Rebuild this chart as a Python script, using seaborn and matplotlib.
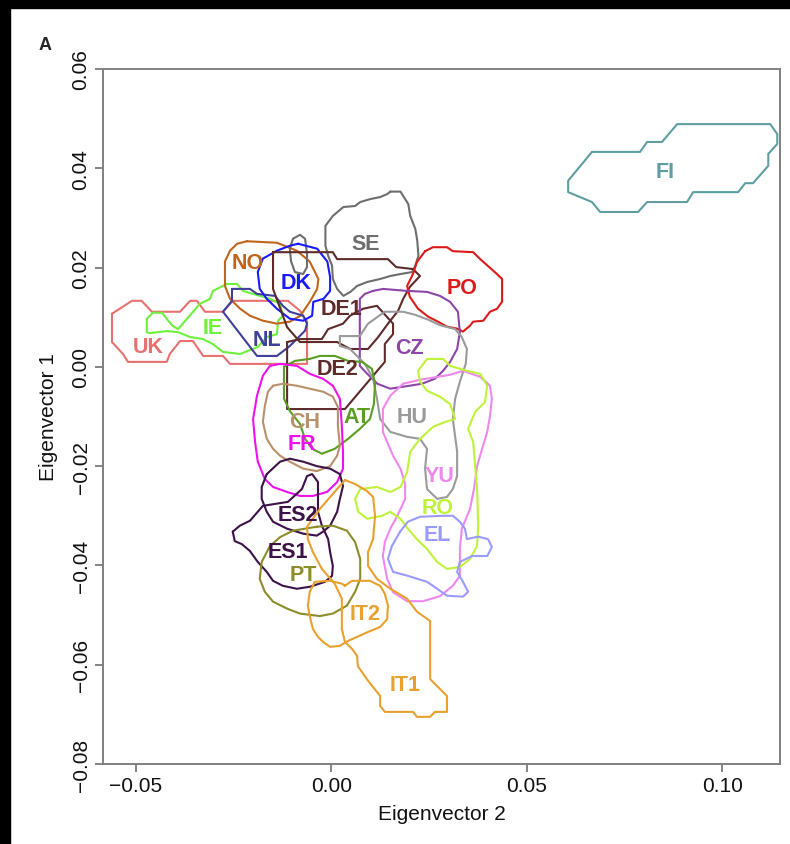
import matplotlib
matplotlib.use("Agg")
import matplotlib.pyplot as plt
import numpy as np
import pandas as pd
import seaborn as sns
from matplotlib.patches import Rectangle

# ---------------- data: contour outlines (Eigenvector 2, Eigenvector 1) ----------------
FI_x = [0.0667, 0.0606, 0.0606, 0.0667, 0.0688, 0.0785, 0.0808, 0.0910, 0.0926, 0.1041, 0.1059, 0.1079, 0.1118, 0.1118, 0.1141, 0.1141, 0.1123, 0.0885, 0.0846, 0.0808, 0.0790]
FI_y = [0.0433, 0.0375, 0.0352, 0.0332, 0.0312, 0.0312, 0.0332, 0.0332, 0.0352, 0.0352, 0.0370, 0.0370, 0.0405, 0.0429, 0.0449, 0.0469, 0.0489, 0.0489, 0.0453, 0.0453, 0.0433]

SE_x = [0.0151, 0.0177, 0.0197, 0.0202, 0.0215, 0.0220, 0.0223, 0.0215, 0.0207, 0.0177, 0.0151, 0.0125, 0.0092, 0.0066, 0.0049, 0.0031, 0.0015, 0.0004, 0.0002, -0.0008, -0.0015, -0.0015, 0.0004, 0.0031, 0.0061, 0.0074, 0.0100, 0.0125, 0.0143]
SE_y = [0.0353, 0.0353, 0.0328, 0.0304, 0.0278, 0.0254, 0.0224, 0.0204, 0.0191, 0.0187, 0.0183, 0.0177, 0.0171, 0.0163, 0.0151, 0.0143, 0.0157, 0.0177, 0.0204, 0.0224, 0.0244, 0.0284, 0.0304, 0.0322, 0.0324, 0.0332, 0.0338, 0.0342, 0.0348]
SEb_x = [-0.0098, -0.0080, -0.0067, -0.0062, -0.0062, -0.0072, -0.0093, -0.0103, -0.0106]
SEb_y = [0.0258, 0.0266, 0.0258, 0.0227, 0.0201, 0.0187, 0.0191, 0.0213, 0.0238]

PO_x = [0.0240, 0.0260, 0.0296, 0.0311, 0.0363, 0.0381, 0.0401, 0.0424, 0.0437, 0.0437, 0.0424, 0.0406, 0.0389, 0.0363, 0.0355, 0.0337, 0.0322, 0.0296, 0.0273, 0.0248, 0.0222, 0.0201, 0.0194, 0.0209, 0.0219]
PO_y = [0.0233, 0.0241, 0.0241, 0.0233, 0.0231, 0.0217, 0.0203, 0.0187, 0.0177, 0.0131, 0.0117, 0.0111, 0.0093, 0.0091, 0.0083, 0.0071, 0.0077, 0.0081, 0.0091, 0.0101, 0.0117, 0.0141, 0.0163, 0.0187, 0.0211]

DK_x = [-0.0085, -0.0036, -0.0010, -0.0003, -0.0003, -0.0020, -0.0046, -0.0049, -0.0072, -0.0106, -0.0139, -0.0165, -0.0183, -0.0188, -0.0175, -0.0139, -0.0106]
DK_y = [0.0248, 0.0238, 0.0212, 0.0181, 0.0153, 0.0137, 0.0131, 0.0103, 0.0093, 0.0097, 0.0117, 0.0137, 0.0157, 0.0191, 0.0218, 0.0234, 0.0244]

NO_x = [-0.0216, -0.0139, -0.0088, -0.0055, -0.0033, -0.0036, -0.0055, -0.0079, -0.0106, -0.0139, -0.0175, -0.0208, -0.0233, -0.0259, -0.0272, -0.0272, -0.0259, -0.0241]
NO_y = [0.0253, 0.0250, 0.0234, 0.0212, 0.0177, 0.0157, 0.0131, 0.0103, 0.0091, 0.0087, 0.0093, 0.0103, 0.0117, 0.0137, 0.0163, 0.0212, 0.0234, 0.0248]

NL_x = [-0.0254, -0.0208, -0.0190, -0.0144, -0.0124, -0.0106, -0.0072, -0.0062, -0.0067, -0.0106, -0.0139, -0.0190, -0.0277, -0.0254]
NL_y = [0.0157, 0.0157, 0.0147, 0.0143, 0.0123, 0.0111, 0.0103, 0.0087, 0.0073, 0.0042, 0.0022, 0.0022, 0.0111, 0.0133]

IE_x = [-0.0472, -0.0472, -0.0456, -0.0433, -0.0408, -0.0392, -0.0369, -0.0336, -0.0310, -0.0303, -0.0267, -0.0241, -0.0226, -0.0200, -0.0157, -0.0131, -0.0124, -0.0136, -0.0139, -0.0165, -0.0188, -0.0233, -0.0277, -0.0303, -0.0328, -0.0361, -0.0392, -0.0421, -0.0464]
IE_y = [0.0070, 0.0097, 0.0109, 0.0109, 0.0084, 0.0076, 0.0097, 0.0127, 0.0137, 0.0153, 0.0167, 0.0167, 0.0153, 0.0147, 0.0137, 0.0127, 0.0103, 0.0093, 0.0066, 0.0060, 0.0040, 0.0026, 0.0030, 0.0046, 0.0056, 0.0060, 0.0070, 0.0072, 0.0068]

UK_x = [-0.0561, -0.0510, -0.0485, -0.0459, -0.0387, -0.0361, -0.0344, -0.0323, -0.0277, -0.0252, -0.0111, -0.0080, -0.0062, -0.0062, -0.0259, -0.0277, -0.0328, -0.0354, -0.0387, -0.0413, -0.0421, -0.0520, -0.0533, -0.0561]
UK_y = [0.0107, 0.0133, 0.0133, 0.0111, 0.0111, 0.0133, 0.0133, 0.0111, 0.0111, 0.0133, 0.0133, 0.0113, 0.0091, 0.0006, 0.0006, 0.0022, 0.0022, 0.0052, 0.0052, 0.0026, 0.0010, 0.0010, 0.0026, 0.0050]

DE1_x = [-0.0149, 0.0004, 0.0015, 0.0145, 0.0166, 0.0209, 0.0227, 0.0201, 0.0184, 0.0171, 0.0145, 0.0120, 0.0094, 0.0048, 0.0015, -0.0080, -0.0113, -0.0149]
DE1_y = [0.0231, 0.0231, 0.0217, 0.0217, 0.0201, 0.0197, 0.0183, 0.0161, 0.0137, 0.0113, 0.0087, 0.0060, 0.0036, 0.0036, 0.0050, 0.0050, 0.0080, 0.0157]

DE2_x = [-0.0113, -0.0113, 0.0035, 0.0137, 0.0137, 0.0158, 0.0158, 0.0117, 0.0081, 0.0048, 0.0030, -0.0008, -0.0024, -0.0080]
DE2_y = [0.0050, -0.0085, -0.0085, 0.0010, 0.0046, 0.0066, 0.0087, 0.0123, 0.0117, 0.0103, 0.0087, 0.0076, 0.0056, 0.0056]

CZ_x = [0.0107, 0.0132, 0.0194, 0.0245, 0.0278, 0.0304, 0.0324, 0.0329, 0.0322, 0.0304, 0.0286, 0.0265, 0.0232, 0.0184, 0.0151, 0.0118, 0.0092, 0.0073, 0.0073, 0.0073, 0.0086]
CZ_y = [0.0153, 0.0157, 0.0153, 0.0151, 0.0143, 0.0131, 0.0111, 0.0070, 0.0036, 0.0010, -0.0008, -0.0024, -0.0034, -0.0040, -0.0044, -0.0034, -0.0014, 0.0002, 0.0050, 0.0137, 0.0147]

HU_x = [0.0022, 0.0022, 0.0048, 0.0086, 0.0107, 0.0117, 0.0125, 0.0151, 0.0194, 0.0227, 0.0245, 0.0240, 0.0245, 0.0271, 0.0296, 0.0311, 0.0322, 0.0322, 0.0311, 0.0317, 0.0329, 0.0344, 0.0347, 0.0334, 0.0317, 0.0278, 0.0248, 0.0214, 0.0184, 0.0137, 0.0094, 0.0073]
HU_y = [0.0062, 0.0042, 0.0036, 0.0006, -0.0024, -0.0064, -0.0105, -0.0131, -0.0141, -0.0145, -0.0165, -0.0205, -0.0246, -0.0266, -0.0262, -0.0246, -0.0220, -0.0171, -0.0105, -0.0064, -0.0030, 0.0006, 0.0036, 0.0060, 0.0076, 0.0084, 0.0095, 0.0105, 0.0111, 0.0111, 0.0087, 0.0062]

YU_x = [0.0184, 0.0227, 0.0304, 0.0337, 0.0381, 0.0406, 0.0411, 0.0406, 0.0399, 0.0386, 0.0373, 0.0365, 0.0355, 0.0334, 0.0329, 0.0329, 0.0311, 0.0278, 0.0235, 0.0194, 0.0158, 0.0143, 0.0132, 0.0137, 0.0151, 0.0169, 0.0189, 0.0189, 0.0177, 0.0158, 0.0132, 0.0132, 0.0151]
YU_y = [-0.0034, -0.0026, -0.0016, -0.0008, -0.0020, -0.0038, -0.0064, -0.0099, -0.0131, -0.0165, -0.0200, -0.0246, -0.0286, -0.0326, -0.0367, -0.0421, -0.0441, -0.0462, -0.0472, -0.0472, -0.0454, -0.0427, -0.0381, -0.0353, -0.0326, -0.0300, -0.0266, -0.0236, -0.0205, -0.0179, -0.0131, -0.0085, -0.0058]

RO_x = [0.0061, 0.0074, 0.0117, 0.0151, 0.0177, 0.0194, 0.0202, 0.0227, 0.0260, 0.0291, 0.0317, 0.0304, 0.0278, 0.0245, 0.0227, 0.0222, 0.0245, 0.0286, 0.0304, 0.0347, 0.0381, 0.0399, 0.0393, 0.0368, 0.0350, 0.0363, 0.0368, 0.0373, 0.0376, 0.0373, 0.0355, 0.0329, 0.0296, 0.0271, 0.0245, 0.0219, 0.0196, 0.0177, 0.0151, 0.0130, 0.0092, 0.0069]
RO_y = [-0.0266, -0.0246, -0.0242, -0.0252, -0.0242, -0.0212, -0.0171, -0.0145, -0.0121, -0.0111, -0.0105, -0.0075, -0.0060, -0.0048, -0.0030, -0.0008, 0.0016, 0.0016, 0.0002, -0.0008, -0.0014, -0.0038, -0.0071, -0.0091, -0.0125, -0.0151, -0.0200, -0.0246, -0.0320, -0.0361, -0.0387, -0.0403, -0.0407, -0.0393, -0.0367, -0.0347, -0.0326, -0.0306, -0.0292, -0.0300, -0.0306, -0.0292]

EL_x = [0.0176, 0.0196, 0.0227, 0.0286, 0.0311, 0.0329, 0.0342, 0.0347, 0.0375, 0.0401, 0.0411, 0.0399, 0.0360, 0.0329, 0.0322, 0.0337, 0.0350, 0.0337, 0.0296, 0.0271, 0.0245, 0.0196, 0.0158, 0.0145, 0.0155]
EL_y = [-0.0332, -0.0312, -0.0302, -0.0300, -0.0300, -0.0312, -0.0326, -0.0347, -0.0342, -0.0347, -0.0363, -0.0381, -0.0381, -0.0393, -0.0413, -0.0433, -0.0453, -0.0463, -0.0461, -0.0447, -0.0433, -0.0421, -0.0413, -0.0387, -0.0361]

AT_x = [-0.0121, -0.0093, -0.0055, -0.0029, 0.0009, 0.0043, 0.0079, 0.0104, 0.0112, 0.0109, 0.0099, 0.0073, 0.0043, 0.0009, -0.0024, -0.0049, -0.0067, -0.0080, -0.0106, -0.0121]
AT_y = [0.0000, 0.0012, 0.0016, 0.0022, 0.0022, 0.0012, 0.0010, -0.0004, -0.0034, -0.0075, -0.0105, -0.0125, -0.0145, -0.0165, -0.0175, -0.0165, -0.0145, -0.0115, -0.0089, -0.0064]

CH_x = [-0.0149, -0.0124, -0.0088, -0.0055, -0.0021, 0.0004, 0.0017, 0.0017, 0.0022, 0.0015, -0.0003, -0.0037, -0.0072, -0.0106, -0.0131, -0.0149, -0.0165, -0.0175, -0.0170, -0.0162]
CH_y = [-0.0038, -0.0034, -0.0038, -0.0044, -0.0050, -0.0060, -0.0081, -0.0119, -0.0159, -0.0179, -0.0200, -0.0210, -0.0205, -0.0191, -0.0179, -0.0165, -0.0145, -0.0111, -0.0079, -0.0050]

FR_x = [-0.0157, -0.0131, -0.0088, -0.0055, -0.0021, 0.0004, 0.0022, 0.0027, 0.0030, 0.0030, 0.0015, -0.0011, -0.0047, -0.0080, -0.0113, -0.0149, -0.0170, -0.0188, -0.0195, -0.0200, -0.0190, -0.0175]
FR_y = [0.0002, 0.0006, 0.0002, -0.0014, -0.0024, -0.0038, -0.0064, -0.0119, -0.0171, -0.0205, -0.0232, -0.0252, -0.0260, -0.0260, -0.0252, -0.0242, -0.0226, -0.0191, -0.0151, -0.0105, -0.0058, -0.0018]

ES2_x = [-0.0165, -0.0131, -0.0106, -0.0072, -0.0037, -0.0003, 0.0022, 0.0030, 0.0022, 0.0015, -0.0003, -0.0021, -0.0037, -0.0072, -0.0113, -0.0149, -0.0165, -0.0178, -0.0178]
ES2_y = [-0.0216, -0.0191, -0.0185, -0.0191, -0.0200, -0.0205, -0.0216, -0.0240, -0.0266, -0.0292, -0.0320, -0.0332, -0.0340, -0.0336, -0.0326, -0.0312, -0.0292, -0.0266, -0.0242]

ES1_x = [-0.0252, -0.0234, -0.0208, -0.0175, -0.0111, -0.0075, -0.0062, -0.0049, -0.0034, -0.0034, -0.0024, -0.0008, -0.0003, 0.0004, 0.0002, -0.0016, -0.0055, -0.0088, -0.0124, -0.0149, -0.0165, -0.0188, -0.0208, -0.0229, -0.0247]
ES1_y = [-0.0332, -0.0320, -0.0310, -0.0280, -0.0272, -0.0246, -0.0220, -0.0216, -0.0232, -0.0292, -0.0320, -0.0347, -0.0373, -0.0401, -0.0421, -0.0433, -0.0443, -0.0447, -0.0441, -0.0431, -0.0413, -0.0393, -0.0371, -0.0357, -0.0351]

PT_x = [-0.0037, 0.0004, 0.0040, 0.0061, 0.0074, 0.0074, 0.0061, 0.0040, 0.0004, -0.0029, -0.0080, -0.0113, -0.0149, -0.0170, -0.0183, -0.0178, -0.0157, -0.0131, -0.0098]
PT_y = [-0.0322, -0.0320, -0.0330, -0.0353, -0.0387, -0.0427, -0.0453, -0.0481, -0.0497, -0.0502, -0.0497, -0.0487, -0.0473, -0.0453, -0.0427, -0.0393, -0.0361, -0.0343, -0.0330]

IT2_x = [0.0035, 0.0053, 0.0099, 0.0125, 0.0137, 0.0145, 0.0143, 0.0125, 0.0094, 0.0066, 0.0043, 0.0022, -0.0003, -0.0021, -0.0034, -0.0047, -0.0055, -0.0060, -0.0055, -0.0042, -0.0003, 0.0028]
IT2_y = [-0.0441, -0.0431, -0.0431, -0.0441, -0.0457, -0.0481, -0.0508, -0.0524, -0.0534, -0.0544, -0.0552, -0.0562, -0.0564, -0.0554, -0.0544, -0.0528, -0.0502, -0.0481, -0.0453, -0.0433, -0.0431, -0.0437]

IT1_x = [0.0035, 0.0061, 0.0091, 0.0107, 0.0112, 0.0107, 0.0094, 0.0094, 0.0117, 0.0151, 0.0194, 0.0219, 0.0253, 0.0253, 0.0296, 0.0296, 0.0265, 0.0253, 0.0219, 0.0209, 0.0137, 0.0125, 0.0125, 0.0091, 0.0068, 0.0066, 0.0053, 0.0035, 0.0027, 0.0027, 0.0009, -0.0024, -0.0047, -0.0060, -0.0062, -0.0029, 0.0004]
IT1_y = [-0.0228, -0.0236, -0.0250, -0.0262, -0.0300, -0.0347, -0.0373, -0.0401, -0.0427, -0.0447, -0.0467, -0.0493, -0.0512, -0.0629, -0.0663, -0.0695, -0.0695, -0.0705, -0.0705, -0.0695, -0.0695, -0.0683, -0.0663, -0.0629, -0.0603, -0.0582, -0.0568, -0.0554, -0.0528, -0.0467, -0.0437, -0.0407, -0.0373, -0.0347, -0.0322, -0.0286, -0.0256]

# population labels and their positions
label_names = ["FI", "SE", "PO", "NO", "DK", "DE1", "IE", "UK", "NL", "CZ", "DE2", "HU", "AT", "CH", "FR", "YU", "ES2", "RO", "EL", "ES1", "PT", "IT2", "IT1"]
label_x = [0.0854, 0.0089, 0.0335, -0.0213, -0.0090, 0.0027, -0.0303, -0.0469, -0.0165, 0.0201, 0.0017, 0.0207, 0.0066, -0.0067, -0.0075, 0.0278, -0.0085, 0.0271, 0.0271, -0.0111, -0.0072, 0.0086, 0.0189]
label_y = [0.0393, 0.0248, 0.0159, 0.0211, 0.0169, 0.0117, 0.0080, 0.0040, 0.0056, 0.0038, -0.0004, -0.0101, -0.0101, -0.0111, -0.0155, -0.0218, -0.0298, -0.0284, -0.0338, -0.0371, -0.0419, -0.0497, -0.0640]

colors = {
    "FI": "#5f9ea0", "SE": "#6e6e6e", "PO": "#dd1a1a", "NO": "#c0651c", "DK": "#1a1aff",
    "DE1": "#5e2b2b", "DE2": "#5e2b2b", "IE": "#6ef03c", "UK": "#e6716f", "NL": "#3f3f9c",
    "CZ": "#8d45a8", "HU": "#9a9a9a", "AT": "#5a9e24", "CH": "#b8916a", "FR": "#ee11ee",
    "YU": "#ee88ee", "ES2": "#3c1248", "ES1": "#3c1248", "RO": "#bff23a", "EL": "#9a9aff",
    "PT": "#8c8c28", "IT2": "#e8a02e", "IT1": "#e8a02e",
}

outlines = [
    ("UK", UK_x, UK_y), ("IE", IE_x, IE_y), ("NO", NO_x, NO_y), ("NL", NL_x, NL_y),
    ("SE", SE_x, SE_y), ("SE", SEb_x, SEb_y), ("DK", DK_x, DK_y), ("DE1", DE1_x, DE1_y),
    ("DE2", DE2_x, DE2_y), ("PO", PO_x, PO_y), ("CZ", CZ_x, CZ_y), ("HU", HU_x, HU_y),
    ("YU", YU_x, YU_y), ("RO", RO_x, RO_y), ("EL", EL_x, EL_y), ("AT", AT_x, AT_y),
    ("CH", CH_x, CH_y), ("FR", FR_x, FR_y), ("ES2", ES2_x, ES2_y), ("ES1", ES1_x, ES1_y),
    ("PT", PT_x, PT_y), ("IT1", IT1_x, IT1_y), ("IT2", IT2_x, IT2_y), ("FI", FI_x, FI_y),
]

rows = []
for k, (name, xs, ys) in enumerate(outlines):
    xs_c = list(xs) + [xs[0]]
    ys_c = list(ys) + [ys[0]]
    for i, (xv, yv) in enumerate(zip(xs_c, ys_c)):
        rows.append({"poly": f"{name}_{k}", "pop": name, "order": i, "ev2": xv, "ev1": yv})
df = pd.DataFrame(rows)
poly_palette = {p: colors[p.split("_")[0]] for p in df["poly"].unique()}

# ---------------- figure ----------------
sns.set_theme(style="white")
plt.rcParams["font.family"] = ["Liberation Sans", "DejaVu Sans"]

fig = plt.figure(figsize=(7.9, 8.45), dpi=100)
ax = fig.add_axes([103 / 790, 1 - 765 / 845, 677 / 790, 695 / 845])

sns.lineplot(data=df, x="ev2", y="ev1", hue="poly", palette=poly_palette,
             estimator=None, sort=False, units="poly", legend=False,
             linewidth=1.5, ax=ax)

for name, xv, yv in zip(label_names, label_x, label_y):
    ax.text(xv, yv, name, color=colors[name], fontsize=15.5, fontweight="bold",
            ha="center", va="center")

ax.set_xlim(-0.0584, 0.1148)
ax.set_ylim(-0.08, 0.06)

xt = [-0.05, 0.0, 0.05, 0.10]
yt = [-0.08, -0.06, -0.04, -0.02, 0.0, 0.02, 0.04, 0.06]
ax.set_xticks(xt)
ax.set_xticklabels([f"{v:.2f}".replace("-", "\u2212") for v in xt])
ax.set_yticks(yt)
ax.set_yticklabels([f"{v:.2f}".replace("-", "\u2212") if abs(v) > 1e-9 else "0.00" for v in yt])
for lab in ax.get_yticklabels():
    lab.set_rotation(90)
    lab.set_va("center")
    lab.set_ha("right")

ax.tick_params(axis="both", which="major", direction="out", length=6, width=1.2,
               color="#707070", labelsize=15, labelcolor="#111111", pad=3,
               bottom=True, left=True)
for sp in ax.spines.values():
    sp.set_color("#808080")
    sp.set_linewidth(1.4)

ax.set_xlabel("Eigenvector 2", fontsize=15, labelpad=6, color="#111111")
ax.set_ylabel("Eigenvector 1", fontsize=15, labelpad=10, color="#111111")

fig.text(45 / 790, 1 - 45 / 845, "A", fontsize=13, fontweight="bold",
         ha="center", va="center")

# black frame (left and top edges)
fig.patches.append(Rectangle((0, 0), 10 / 790, 1, transform=fig.transFigure,
                             color="black", zorder=10))
fig.patches.append(Rectangle((0, 1 - 9 / 845), 1, 9 / 845, transform=fig.transFigure,
                             color="black", zorder=10))

fig.savefig("out.png", dpi=100)
